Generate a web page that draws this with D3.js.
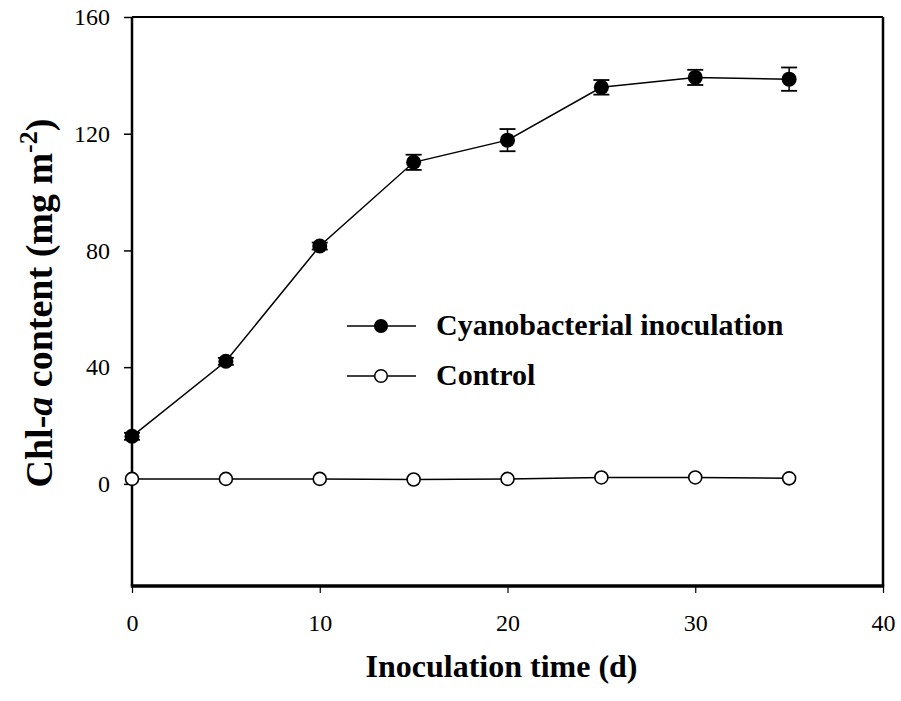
<!DOCTYPE html>
<html>
<head>
<meta charset="utf-8">
<script src="https://cdn.jsdelivr.net/npm/d3@7"></script>
<style>
  body { margin: 0; background: #fff; }
  text { font-family: "Liberation Serif", "Times New Roman", serif; }
</style>
</head>
<body>
<div id="chart"></div>
<script>
// data
var days = [0, 5, 10, 15, 20, 25, 30, 35];
var cyanoMean = [16.3, 42.0, 81.5, 110.2, 117.8, 135.9, 139.3, 138.7];
var cyanoErr = [1.2, 1.2, 1.2, 2.6, 3.8, 2.5, 2.6, 4.0];
var controlMean = [1.7, 1.7, 1.7, 1.5, 1.7, 2.2, 2.2, 1.9];
var xTicks = [0, 10, 20, 30, 40];
var yTicks = [0, 40, 80, 120, 160];

var width = 901, height = 701;
var margin = {top: 17, right: 18, bottom: 115, left: 132};
var w = width - margin.left - margin.right,
    h = height - margin.top - margin.bottom;

var svg = d3.select("#chart").append("svg")
    .attr("width", width)
    .attr("height", height);

var g = svg.append("g")
    .attr("transform", "translate(" + margin.left + "," + margin.top + ")");

var x = d3.scaleLinear().domain([0, 40]).range([0, w]);
var y = d3.scaleLinear().domain([-35, 160]).range([h, 0]);

// axes
var xAxis = g.append("g")
    .attr("transform", "translate(0," + h + ")")
    .call(d3.axisBottom(x).tickValues(xTicks).tickSize(7).tickPadding(21).tickFormat(d3.format("d")));
xAxis.select(".domain").remove();
xAxis.selectAll("text").attr("font-size", "24px").attr("fill", "#000")
    .style("font-family", "'Liberation Serif', serif");
xAxis.selectAll("line").attr("stroke-width", 1.2);

var yAxis = g.append("g")
    .call(d3.axisLeft(y).tickValues(yTicks).tickSize(8).tickPadding(14).tickFormat(d3.format("d")));
yAxis.select(".domain").remove();
yAxis.selectAll("text").attr("font-size", "24px").attr("fill", "#000")
    .style("font-family", "'Liberation Serif', serif");
yAxis.selectAll("line").attr("stroke-width", 1.5);

// frame
g.append("line").attr("x1", 0).attr("x2", w).attr("y1", 0).attr("y2", 0)
    .attr("stroke", "#000").attr("stroke-width", 2.2);
g.append("line").attr("x1", w).attr("x2", w).attr("y1", 0).attr("y2", h)
    .attr("stroke", "#000").attr("stroke-width", 2.5);
g.append("line").attr("x1", 0).attr("x2", 0).attr("y1", 0).attr("y2", h)
    .attr("stroke", "#000").attr("stroke-width", 2.5);
g.append("line").attr("x1", -1.2).attr("x2", w + 1.2).attr("y1", h).attr("y2", h)
    .attr("stroke", "#000").attr("stroke-width", 3.3);

var line = d3.line().x(function(d) { return x(d[0]); }).y(function(d) { return y(d[1]); });

var cyano = days.map(function(d, i) { return [d, cyanoMean[i], cyanoErr[i]]; });
var control = days.map(function(d, i) { return [d, controlMean[i]]; });

// control series
g.append("path").datum(control).attr("d", line)
    .attr("fill", "none").attr("stroke", "#000").attr("stroke-width", 1.5);
g.selectAll(".ctrl").data(control).enter().append("circle")
    .attr("class", "ctrl")
    .attr("cx", function(d) { return x(d[0]); })
    .attr("cy", function(d) { return y(d[1]); })
    .attr("r", 6.5)
    .attr("fill", "#fff").attr("stroke", "#000").attr("stroke-width", 1.6);

// cyano series
g.append("path").datum(cyano).attr("d", line)
    .attr("fill", "none").attr("stroke", "#000").attr("stroke-width", 1.5);

var eb = g.selectAll(".err").data(cyano).enter().append("g").attr("class", "err");
eb.append("line")
    .attr("x1", function(d) { return x(d[0]); }).attr("x2", function(d) { return x(d[0]); })
    .attr("y1", function(d) { return y(d[1] - d[2]); }).attr("y2", function(d) { return y(d[1] + d[2]); })
    .attr("stroke", "#000").attr("stroke-width", 1.5);
eb.selectAll(".cap").data(function(d) { return [[d[0], d[1] - d[2]], [d[0], d[1] + d[2]]]; })
    .enter().append("line")
    .attr("x1", function(d) { return x(d[0]) - 8; }).attr("x2", function(d) { return x(d[0]) + 8; })
    .attr("y1", function(d) { return y(d[1]); }).attr("y2", function(d) { return y(d[1]); })
    .attr("stroke", "#000").attr("stroke-width", 1.8);

g.selectAll(".cy").data(cyano).enter().append("circle")
    .attr("class", "cy")
    .attr("cx", function(d) { return x(d[0]); })
    .attr("cy", function(d) { return y(d[1]); })
    .attr("r", 7.5)
    .attr("fill", "#000");

// legend
var legend = [
    {label: "Cyanobacterial inoculation", fill: "#000", y: 326},
    {label: "Control", fill: "#fff", y: 376}
];
var lg = svg.selectAll(".legend").data(legend).enter().append("g").attr("class", "legend");
lg.append("line").attr("x1", 347).attr("x2", 416)
    .attr("y1", function(d) { return d.y; }).attr("y2", function(d) { return d.y; })
    .attr("stroke", "#000").attr("stroke-width", 1.5);
lg.append("circle").attr("cx", 381).attr("cy", function(d) { return d.y; })
    .attr("r", 6.3).attr("fill", function(d) { return d.fill; })
    .attr("stroke", "#000").attr("stroke-width", 1.5);
lg.append("text").attr("x", 436).attr("y", function(d) { return d.y + 9; })
    .attr("font-size", "30px").attr("font-weight", "bold")
    .text(function(d) { return d.label; });

// axis titles
svg.append("text")
    .attr("x", margin.left + w / 2 - 6)
    .attr("y", 677)
    .attr("text-anchor", "middle")
    .attr("font-size", "32px").attr("font-weight", "bold")
    .text("Inoculation time (d)");

var yt = svg.append("text")
    .attr("transform", "translate(52,303) rotate(-90)")
    .attr("text-anchor", "middle")
    .attr("font-size", "38px").attr("font-weight", "bold");
yt.append("tspan").text("Chl-");
yt.append("tspan").attr("font-style", "italic").text("a");
yt.append("tspan").text(" content (mg m");
yt.append("tspan").attr("dy", -15).attr("font-size", "26px").text("-2");
yt.append("tspan").attr("dy", 15).text(")");
</script>
</body>
</html>
